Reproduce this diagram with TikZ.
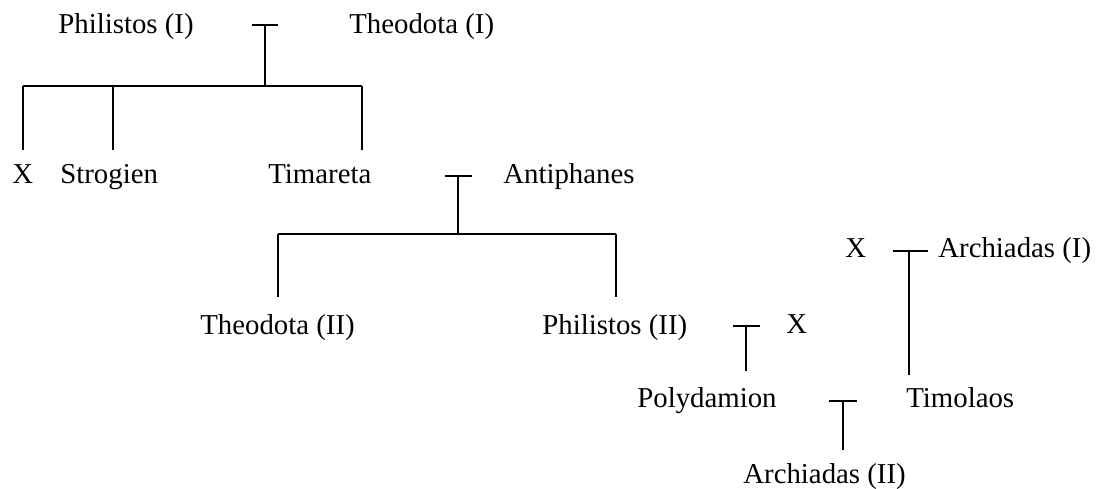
\documentclass[tikz,border=0pt]{standalone}
\usepackage{fontspec}
\setmainfont{Liberation Serif}
\usepackage{tikz}
\usetikzlibrary{positioning}

\tikzset{
  person/.style={inner sep=0pt,anchor=base west,font=\fontsize{16.4}{18}\selectfont},
  descent/.style={line width=1.5pt},
  union/.style={line width=0.8pt},
}

\begin{document}
\begin{tikzpicture}[x=0.02cm,y=-0.02cm]
    \useasboundingbox (0,0) rectangle (1100,488);
    % people
    \node[person](philI) at (58,33) {Philistos (I)};
    \node[person](theoI) at (349,33) {Theodota (I)};
    \node[person](xA) at (12,183) {X};
    \node[person](strog) at (60,183) {Strogien};
    \node[person](tima) at (268,183) {Timareta};
    \node[person](anti) at (503,183) {Antiphanes};
    \node[person](theoII) at (200,334) {Theodota (II)};
    \node[person](philII) at (542,334) {Philistos (II)};
    \node[person](xB) at (786,333) {X};
    \node[person](xC) at (845,257) {X};
    \node[person](archI) at (938,257) {Archiadas (I)};
    \node[person](poly) at (637,407) {Polydamion};
    \node[person](timo) at (906,407) {Timolaos};
    \node[person](archII) at (743,483) {Archiadas (II)};
    % unions
    \coordinate (u1) at (265,25);
    \coordinate (u2) at (458,176);
    \coordinate (u3) at (746,326);
    \coordinate (u4) at (909,251);
    \coordinate (u5) at (843,401);
    \coordinate (b1l) at (23,86);
    \coordinate (b1r) at (362,86);
    \coordinate (b2l) at (278,234);
    \coordinate (b2r) at (616,234);
    \draw[union](u1)++(-13,0)--++(26,0);
    \draw[union](u2)++(-13,0)--++(27,0);
    \draw[union](u3)++(-13,0)--++(27,0);
    \draw[union](u4)++(-16,0)--++(35,0);
    \draw[union](u5)++(-14,0)--++(28,0);
    % descent
    \draw[descent](u1)--(u1|-b1l);
    \draw[descent](b1l)--(b1r);
    \draw[descent](b1l)--++(0,64);
    \draw[descent](b1l-|strog.west)++(53,0)--++(0,64);
    \draw[descent](b1r)--++(0,64);
    \draw[descent](u2)--(u2|-b2l);
    \draw[descent](b2l)--(b2r);
    \draw[descent](b2l)--++(0,63);
    \draw[descent](b2r)--++(0,63);
    \draw[descent](u3)--++(0,45);
    \draw[descent](u4)--++(0,124);
    \draw[descent](u5)--++(0,49);
\end{tikzpicture}
\end{document}
